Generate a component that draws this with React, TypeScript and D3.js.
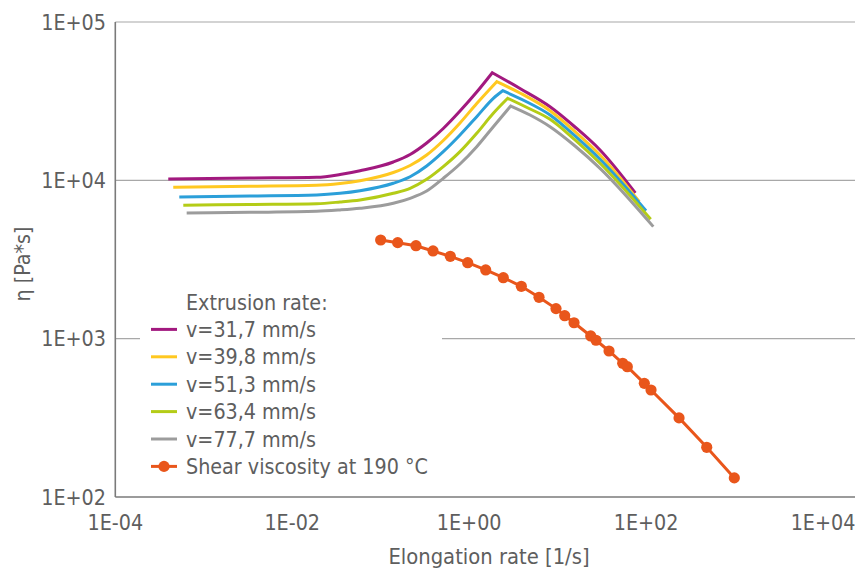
import React from 'react';
import * as d3 from 'd3';

// ---- Tick labels ----
const xTicks = [1e-4, 1e-2, 1, 1e2, 1e4];
const xTickLabels = ['1E-04', '1E-02', '1E+00', '1E+02', '1E+04'];
const yTicks = [1e2, 1e3, 1e4, 1e5];
const yTickLabels = ['1E+02', '1E+03', '1E+04', '1E+05'];

// ---- Elongational viscosity (Rheotens) series ----
const v317X = [0.000397, 0.00333, 0.0189, 0.0347, 0.0584, 0.139, 0.215, 0.331, 0.510, 0.788, 1.218, 1.827, 3.757, 8.21, 15.73, 30.16, 75.6];
const v317Y = [10200, 10340, 10450, 10880, 11500, 13060, 14560, 17210, 21260, 27410, 36130, 47840, 38020, 29170, 21720, 15550, 8320];

const v398X = [0.000452, 0.00333, 0.0189, 0.0347, 0.0584, 0.139, 0.215, 0.331, 0.510, 0.788, 1.218, 2.049, 3.757, 8.21, 15.73, 30.16, 83.9];
const v398Y = [9040, 9170, 9300, 9550, 9950, 11210, 12410, 14450, 17850, 23020, 30570, 41980, 35610, 27530, 20340, 14450, 7330];

const v513X = [0.000529, 0.00333, 0.0189, 0.0347, 0.0584, 0.139, 0.215, 0.331, 0.510, 0.788, 1.218, 1.876, 2.396, 4.28, 8.21, 15.73, 30.16, 99.8];
const v513Y = [7850, 7960, 8080, 8280, 8600, 9580, 10540, 12320, 15170, 19330, 25230, 32970, 36820, 31700, 25860, 19060, 13580, 6430];

const v634X = [0.000587, 0.00333, 0.0189, 0.0347, 0.0584, 0.139, 0.215, 0.331, 0.510, 0.788, 1.218, 1.876, 2.729, 4.628, 8.21, 15.73, 30.16, 112.8];
const v634Y = [6960, 7040, 7120, 7300, 7520, 8280, 8910, 10150, 12200, 15170, 19820, 26510, 32970, 28630, 24300, 17980, 12810, 5670];

const v777X = [0.000641, 0.00333, 0.0189, 0.0347, 0.0584, 0.139, 0.215, 0.331, 0.510, 0.788, 1.218, 1.876, 2.95, 4.875, 8.21, 15.73, 30.16, 120.7];
const v777Y = [6220, 6280, 6370, 6500, 6660, 7160, 7700, 8560, 10300, 12680, 16310, 21820, 29480, 25860, 21820, 16480, 11910, 5100];

// ---- Shear viscosity at 190 °C ----
const shearX = [0.1, 0.1557, 0.2507, 0.3905, 0.612, 0.963, 1.539, 2.433, 3.888, 6.162, 9.59, 12.03, 15.33, 23.67, 27.18, 38.12, 54.44, 61.36, 95.52, 113.7, 235.8, 484.8, 994];
const shearY = [4200, 4040, 3865, 3580, 3313, 3020, 2716, 2428, 2142, 1825, 1548, 1397, 1260, 1040, 977, 836, 699, 665, 522, 474, 316, 206, 132];

const legendTitle = 'Extrusion rate:';
const seriesNames = ['v=31,7 mm/s', 'v=39,8 mm/s', 'v=51,3 mm/s', 'v=63,4 mm/s', 'v=77,7 mm/s'];
const shearName = 'Shear viscosity at 190 °C';
const xTitle = 'Elongation rate [1/s]';
const yTitle = 'η [Pa*s]';

// ---- styles ----
const seriesColors = ['#A2197F', '#FFC820', '#2B9FD9', '#B4CC17', '#9C9C9C'];
const shearColor = '#E9561B';
const textColor = '#5E5E5E';
const gridColor = '#A8A8A8';
const axisColor = '#7A7A7A';
const FONT = '"DejaVu Sans Condensed", "DejaVu Sans", sans-serif';
const FS = 21.3;

const W = 856;
const H = 574;
const plotLeft = 115.3;
const plotRight = 855;
const plotTop = 22;
const plotBottom = 497;

export default function App() {
  const x = d3.scaleLog().domain([1e-4, 1e4]).range([plotLeft, 823]);
  const y = d3.scaleLog().domain([1e2, 1e5]).range([plotBottom, plotTop]);

  const seriesX = [v317X, v398X, v513X, v634X, v777X];
  const seriesY = [v317Y, v398Y, v513Y, v634Y, v777Y];

  const curveLine = d3
    .line<[number, number]>()
    .x((d) => x(d[0]))
    .y((d) => y(d[1]))
    .curve(d3.curveMonotoneX);

  const straightLine = d3
    .line<[number, number]>()
    .x((d) => x(d[0]))
    .y((d) => y(d[1]));

  const paths = seriesX.map((xs, i) => {
    const pts: [number, number][] = xs.map((v, j) => [v, seriesY[i][j]]);
    const peak = d3.maxIndex(seriesY[i]);
    const rise = curveLine(pts.slice(0, peak + 1)) || '';
    const fall = (curveLine(pts.slice(peak)) || '').replace(/^M/, 'L');
    return rise + fall;
  });

  const shearPts: [number, number][] = shearX.map((v, j) => [v, shearY[j]]);

  const legX = 151;
  const legTextX = 186;
  const legTitleY = 302;
  const legStep = 27.4;

  return (
    <svg
      width={W}
      height={H}
      style={{ position: 'absolute', left: 0, top: 0, background: '#fff' }}
      fontFamily={FONT}
    >
      <rect x={0} y={0} width={W} height={H} fill="#fff" />
      {/* gridlines */}
      {yTicks.slice(1).map((t) => (
        <line key={t} x1={plotLeft} x2={plotRight} y1={y(t)} y2={y(t)} stroke={gridColor} strokeWidth={1.2} />
      ))}
      {/* axes */}
      <line x1={plotLeft} x2={plotLeft} y1={plotTop} y2={plotBottom} stroke={axisColor} strokeWidth={1.6} />
      <line x1={plotLeft} x2={plotRight} y1={plotBottom} y2={plotBottom} stroke={axisColor} strokeWidth={1.6} />

      {/* y tick labels */}
      {yTicks.map((t, i) => (
        <text key={t} x={106} y={y(t)} dy="0.36em" textAnchor="end" fontSize={FS} fill={textColor}>
          {yTickLabels[i]}
        </text>
      ))}
      {/* x tick labels */}
      {xTicks.map((t, i) => (
        <text key={t} x={x(t)} y={522} dy="0.36em" textAnchor="middle" fontSize={FS} fill={textColor}>
          {xTickLabels[i]}
        </text>
      ))}
      <text x={489} y={556} dy="0.36em" textAnchor="middle" fontSize={FS + 0.5} fill={textColor}>
        {xTitle}
      </text>
      <text
        transform={`translate(22,264) rotate(-90)`}
        dy="0.36em"
        textAnchor="middle"
        fontSize={FS}
        fill={textColor}
      >
        {yTitle}
      </text>

      {/* legend background */}
      <rect x={140} y={284} width={302} height={198} fill="#fff" />

      {/* elongational curves */}
      {paths.map((p, i) => (
        <path key={i} d={p} fill="none" stroke={seriesColors[i]} strokeWidth={3} strokeLinejoin="miter" />
      ))}

      {/* shear viscosity */}
      <path d={straightLine(shearPts) || ''} fill="none" stroke={shearColor} strokeWidth={3} />
      {shearPts.map((d, i) => (
        <circle key={i} cx={x(d[0])} cy={y(d[1])} r={5.6} fill={shearColor} />
      ))}

      {/* legend */}
      <text x={legTextX} y={legTitleY} dy="0.36em" fontSize={FS} fill={textColor}>
        {legendTitle}
      </text>
      {seriesNames.map((n, i) => {
        const yy = legTitleY + legStep * (i + 1);
        return (
          <g key={n}>
            <line x1={legX} x2={legX + 26} y1={yy} y2={yy} stroke={seriesColors[i]} strokeWidth={3} />
            <text x={legTextX} y={yy} dy="0.36em" fontSize={FS} fill={textColor}>
              {n}
            </text>
          </g>
        );
      })}
      {(() => {
        const yy = legTitleY + legStep * 6;
        return (
          <g>
            <line x1={legX} x2={legX + 26} y1={yy} y2={yy} stroke={shearColor} strokeWidth={3} />
            <circle cx={legX + 13} cy={yy} r={5.6} fill={shearColor} />
            <text x={legTextX} y={yy} dy="0.36em" fontSize={FS} fill={textColor}>
              {shearName}
            </text>
          </g>
        );
      })()}
    </svg>
  );
}
